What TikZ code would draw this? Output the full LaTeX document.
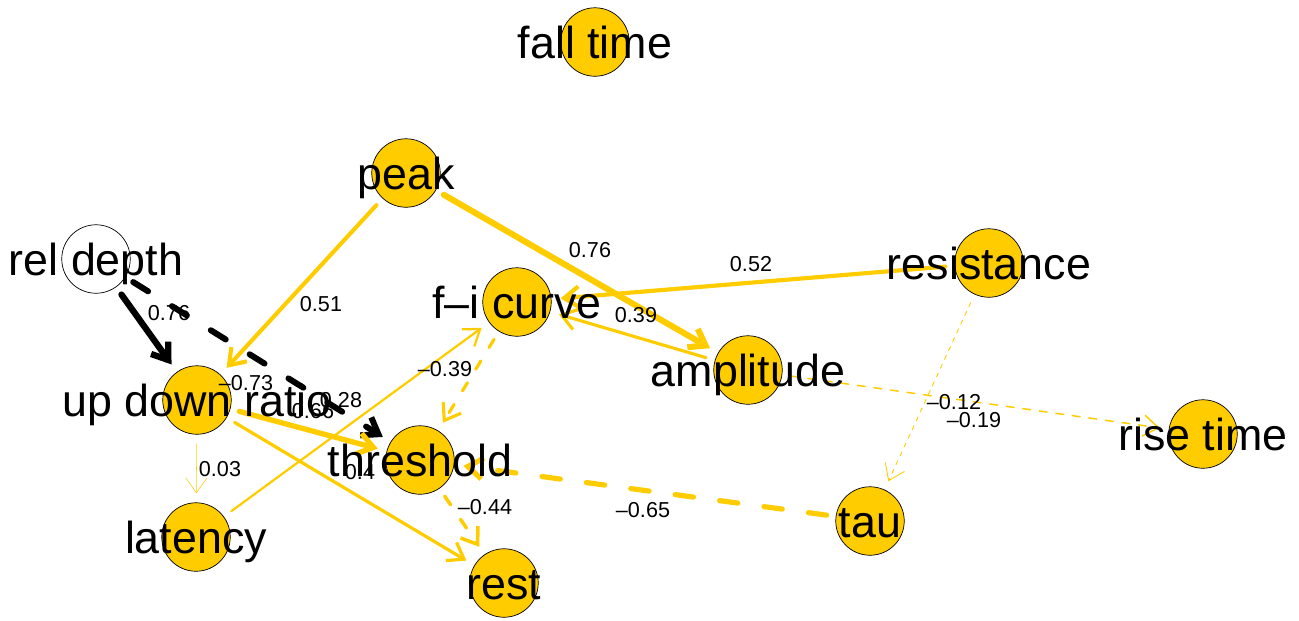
\documentclass[tikz,border=0pt]{standalone}
\usepackage{fontspec}
\setmainfont{Liberation Sans}
\usetikzlibrary{arrows.meta}
\definecolor{gold}{RGB}{255,204,0}
\begin{document}
\begin{tikzpicture}[x=0.02cm,y=-0.02cm,
  vtx/.style={circle,minimum size=1.37cm,inner sep=0pt,outer sep=0.19cm,fill=gold,draw=black,line width=0.4pt},
  vwhite/.style={vtx,fill=white},
  vlab/.style={font=\fontsize{25.5}{26}\selectfont,text height=18.3pt,text depth=0pt,inner sep=0pt},
  elab/.style={font=\fontsize{12.3}{13}\selectfont,text height=8.8pt,text depth=0pt,inner sep=0pt},
  lnk/.style={line cap=round,-{Straight Barb[length=8.5pt,width=12pt]}},
  posedge/.style={lnk,draw=gold},
  negedge/.style={lnk,draw=gold},
  blkedge/.style={lnk,draw=black}
]
\useasboundingbox (0,0) rectangle (1299,620);
% vertices
\node[vtx] (fall) at (595,42) {};
\node[vtx] (peak) at (406,173) {};
\node[vwhite] (rel) at (96,259) {};
\node[vtx] (res) at (989,263) {};
\node[vtx] (fi) at (517,302) {};
\node[vtx] (amp) at (748,370) {};
\node[vtx] (udr) at (197,400) {};
\node[vtx] (thr) at (420,460) {};
\node[vtx] (rise) at (1203,434) {};
\node[vtx] (tau) at (870,521) {};
\node[vtx] (lat) at (196,537) {};
\node[vtx] (rest) at (504,583) {};
% edges
\draw[blkedge,line width=3.6pt] (rel) -- (udr);
\draw[blkedge,line width=3.4pt,dash pattern=on 10pt off 16pt] (rel) -- (thr);
\draw[posedge,line width=2.32pt] (peak) -- (udr);
\draw[posedge,line width=3.46pt] (peak) -- (amp);
\draw[posedge,line width=2.37pt] (res) -- (fi);
\draw[posedge,line width=1.77pt] (amp) -- (fi);
\draw[negedge,line width=1.77pt,dash pattern=on 5.5pt off 9pt] (fi) -- (thr);
\draw[posedge,line width=1.27pt] (lat) -- (fi);
\draw[posedge,line width=3.0pt] (udr) -- (thr);
\draw[posedge,line width=1.82pt] (udr) -- (rest);
\draw[posedge,line width=0.3pt] (udr) -- (lat);
\draw[negedge,line width=2.0pt,dash pattern=on 6pt off 10pt] (thr) -- (rest);
\draw[negedge,line width=2.96pt,dash pattern=on 10.5pt off 15pt] (tau) -- (thr);
\draw[negedge,line width=0.86pt,dash pattern=on 4.5pt off 5pt] (amp) -- (rise);
\draw[negedge,line width=0.5pt,dash pattern=on 2.5pt off 3pt] (res) -- (tau);
% edge labels
\node[elab] (l1) at (169,313) {0.76};
\node[elab] (l2) at (246,383) {–0.73};
\node[elab] (l3) at (321,304) {0.51};
\node[elab] (l4) at (590,250) {0.76};
\node[elab] (l5) at (751,264) {0.52};
\node[elab] (l6) at (636,315) {0.39};
\node[elab] (l7) at (445,369) {–0.39};
\node[elab] (l8) at (341,400) {0.28};
\node[elab] (l9) at (313,411) {0.66};
\node[elab] (l10) at (360,472) {0.4};
\node[elab] (l11) at (220,469) {0.03};
\node[elab] (l12) at (485,507) {–0.44};
\node[elab] (l13) at (643,510) {–0.65};
\node[elab] (l14) at (954,402) {–0.12};
\node[elab] (l15) at (974,420) {–0.19};
% vertex labels
\node[vlab] (fall-l) at (fall.center) {fall time};
\node[vlab] (peak-l) at (peak.center) {peak};
\node[vlab] (rel-l) at (rel.center) {rel depth};
\node[vlab] (res-l) at (res.center) {resistance};
\node[vlab] (fi-l) at (fi.center) {f–i curve};
\node[vlab] (amp-l) at (amp.center) {amplitude};
\node[vlab] (udr-l) at (udr.center) {up down ratio};
\node[vlab] (thr-l) at (thr.center) {threshold};
\node[vlab] (rise-l) at (rise.center) {rise time};
\node[vlab] (tau-l) at (tau.center) {tau};
\node[vlab] (lat-l) at (lat.center) {latency};
\node[vlab] (rest-l) at (rest.center) {rest};
\end{tikzpicture}
\end{document}
